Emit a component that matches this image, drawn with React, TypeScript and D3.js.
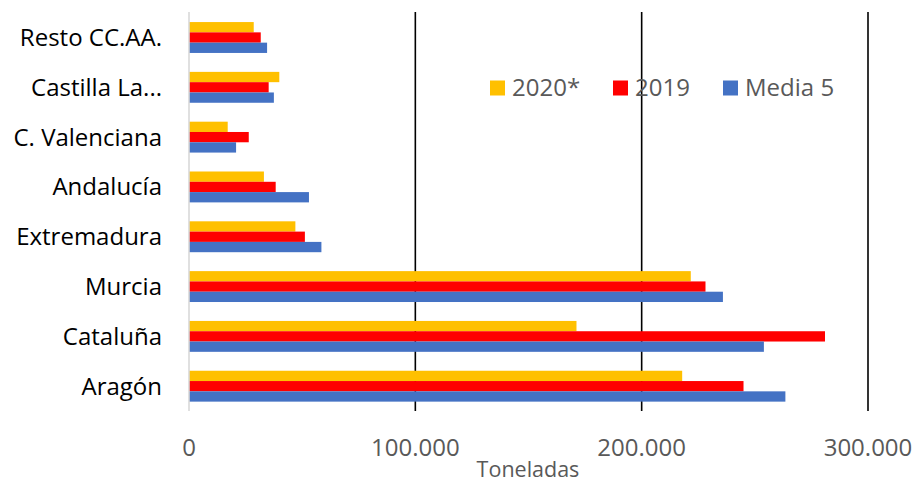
import React from "react";
import * as d3 from "d3";

const categories = [
  "Resto CC.AA.",
  "Castilla La...",
  "C. Valenciana",
  "Andalucía",
  "Extremadura",
  "Murcia",
  "Cataluña",
  "Aragón",
];
const seriesNames = ["2020*", "2019", "Media 5"];
const values2020 = [28600, 39900, 17100, 33100, 47000, 221700, 171200, 217900];
const values2019 = [31700, 35200, 26400, 38300, 51200, 228200, 281000, 245000];
const valuesMedia5 = [34500, 37500, 20800, 53000, 58500, 235900, 254000, 263500];
const seriesColors = ["#FFC000", "#FF0000", "#4472C4"];
const xTicks = [0, 100000, 200000, 300000];
const xTickLabels = ["0", "100.000", "200.000", "300.000"];
const axisTitle = "Toneladas";

const W = 916;
const H = 483;
const FONT = "'Open Sans', 'Noto Sans', sans-serif";

export default function App() {
  const series = [values2020, values2019, valuesMedia5];
  const x = d3.scaleLinear().domain([0, 300000]).range([189, 868]);
  const y = d3
    .scaleBand<string>()
    .domain(categories)
    .range([12.6, 411.1])
    .paddingInner(0.38)
    .paddingOuter(0.19);
  const ys = d3
    .scaleBand<string>()
    .domain(seriesNames)
    .range([0, y.bandwidth()]);

  const legendX = [490, 613, 723];

  return (
    <svg
      width={W}
      height={H}
      style={{ position: "absolute", left: 0, top: 0, background: "#fff" }}
      fontFamily={FONT}
    >
      <rect width={W} height={H} fill="#fff" />
      {/* gridlines */}
      {xTicks.slice(1).map((t) => (
        <line
          key={t}
          x1={x(t)}
          x2={x(t)}
          y1={12}
          y2={411}
          stroke="#000"
          strokeWidth={1.6}
        />
      ))}
      {/* bars */}
      {categories.map((c, i) => (
        <g key={c} transform={`translate(0,${y(c)})`}>
          {series.map((s, j) => (
            <rect
              key={j}
              x={x(0)}
              y={ys(seriesNames[j])}
              width={x(s[i]) - x(0)}
              height={ys.bandwidth()}
              fill={seriesColors[j]}
            />
          ))}
        </g>
      ))}
      {/* vertical axis line */}
      <line x1={x(0)} x2={x(0)} y1={12} y2={411} stroke="#D9D9D9" strokeWidth={1.6} />
      {/* category labels */}
      {categories.map((c) => (
        <text
          key={c}
          x={162}
          y={(y(c) as number) + y.bandwidth() / 2}
          dy="0.35em"
          textAnchor="end"
          fontSize={24}
          fill="#000"
        >
          {c}
        </text>
      ))}
      {/* x tick labels */}
      {xTicks.map((t, i) => (
        <text
          key={t}
          x={x(t)}
          y={456}
          textAnchor="middle"
          fontSize={24}
          fill="#595959"
        >
          {xTickLabels[i]}
        </text>
      ))}
      <text x={528} y={477} textAnchor="middle" fontSize={21.5} fill="#595959">
        {axisTitle}
      </text>
      {/* legend */}
      {seriesNames.map((n, j) => (
        <g key={n}>
          <rect x={legendX[j]} y={80.5} width={15} height={15} fill={seriesColors[j]} />
          <text x={legendX[j] + 22} y={96} fontSize={24} fill="#595959">
            {n}
          </text>
        </g>
      ))}
    </svg>
  );
}
